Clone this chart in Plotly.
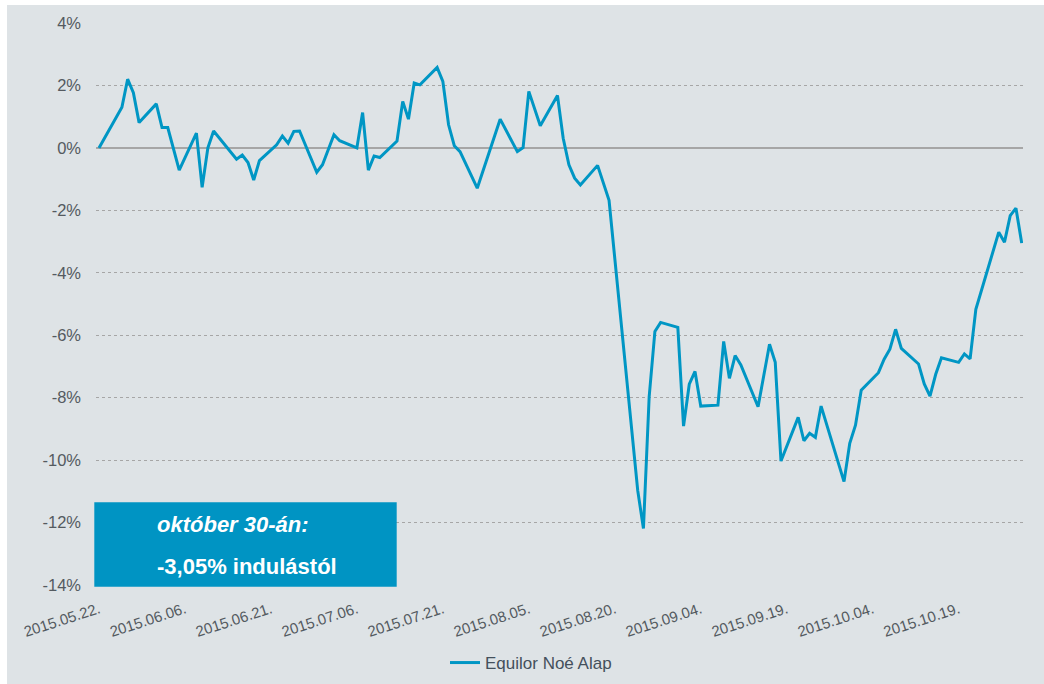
import plotly.graph_objects as go

dates = [
    "2015-05-22", "2015-05-26", "2015-05-27", "2015-05-28", "2015-05-29",
    "2015-06-01", "2015-06-02", "2015-06-03", "2015-06-05", "2015-06-08",
    "2015-06-09", "2015-06-10", "2015-06-11", "2015-06-15", "2015-06-16",
    "2015-06-17", "2015-06-18", "2015-06-19", "2015-06-22", "2015-06-23",
    "2015-06-24", "2015-06-25", "2015-06-26", "2015-06-29", "2015-06-30",
    "2015-07-02", "2015-07-03", "2015-07-06", "2015-07-07", "2015-07-08",
    "2015-07-09", "2015-07-10", "2015-07-13", "2015-07-14", "2015-07-15",
    "2015-07-16", "2015-07-17", "2015-07-20", "2015-07-21", "2015-07-22",
    "2015-07-23", "2015-07-24", "2015-07-27", "2015-07-31", "2015-08-03",
    "2015-08-04", "2015-08-05", "2015-08-07", "2015-08-10", "2015-08-11",
    "2015-08-12", "2015-08-13", "2015-08-14", "2015-08-17", "2015-08-19",
    "2015-08-24", "2015-08-25", "2015-08-26", "2015-08-27", "2015-08-28",
    "2015-08-31", "2015-09-01", "2015-09-02", "2015-09-03", "2015-09-04",
    "2015-09-07", "2015-09-08", "2015-09-09", "2015-09-10", "2015-09-11",
    "2015-09-14", "2015-09-16", "2015-09-17", "2015-09-18", "2015-09-21",
    "2015-09-22", "2015-09-23", "2015-09-24", "2015-09-25", "2015-09-29",
    "2015-09-30", "2015-10-01", "2015-10-02", "2015-10-05", "2015-10-06",
    "2015-10-07", "2015-10-08", "2015-10-09", "2015-10-12", "2015-10-13",
    "2015-10-14", "2015-10-15", "2015-10-16", "2015-10-19", "2015-10-20",
    "2015-10-21", "2015-10-22", "2015-10-26", "2015-10-27", "2015-10-28",
    "2015-10-29", "2015-10-30",
]

noe_values = [
    0.00, 1.30, 2.20, 1.77, 0.81,
    1.41, 0.65, 0.65, -0.71, 0.47,
    -1.26, 0.00, 0.54, -0.36, -0.23,
    -0.47, -1.03, -0.41, 0.10, 0.38,
    0.15, 0.53, 0.54, -0.78, -0.54,
    0.42, 0.23, 0.00, 1.13, -0.71,
    -0.26, -0.31, 0.22, 1.49, 0.92,
    2.08, 2.02, 2.58, 2.13, 0.74,
    0.07, -0.12, -1.29, 0.92, -0.12,
    0.01, 1.81, 0.71, 1.68, 0.31,
    -0.54, -0.97, -1.19, -0.56, -1.68,
    -10.97, -12.19, -7.97, -5.88, -5.59,
    -5.75, -8.91, -7.57, -7.16, -8.27,
    -8.24, -6.20, -7.38, -6.65, -6.95,
    -8.29, -6.29, -6.87, -10.03, -8.63,
    -9.38, -9.14, -9.27, -8.27, -10.69,
    -9.46, -8.88, -7.76, -7.20, -6.77,
    -6.45, -5.81, -6.42, -6.92, -7.56,
    -7.95, -7.25, -6.72, -6.87, -6.60,
    -6.76, -5.17, -2.70, -3.02, -2.17,
    -1.93, -3.05,
]

series_name = "Equilor Noé Alap"
y_tick_vals = [4, 2, 0, -2, -4, -6, -8, -10, -12, -14]
y_tick_labels = ["4%", "2%", "0%", "-2%", "-4%", "-6%", "-8%", "-10%", "-12%", "-14%"]
note_line1 = "<b><i>október 30-án:</i></b>"
note_line2 = "<b>-3,05% indulástól</b>"

BG = "#dee3e6"
BLUE = "#0096c4"
TXT = "#545a60"
FONT = "Arial, Liberation Sans, sans-serif"

W, H = 1044, 684
L, R, T, B = 96, 21, 23, 99
PW, PH = W - L - R, H - T - B


def px2x(px):
    return (px - L) / PW


def py2y(py):
    return (H - B - py) / PH


fig = go.Figure()
fig.add_trace(go.Scatter(
    x=dates, y=noe_values, mode="lines", name=series_name,
    line=dict(color=BLUE, width=3),
    showlegend=True,
))

shapes = [
    # thin white border on the left and top edges
    dict(type="rect", xref="paper", yref="paper", layer="below",
         x0=px2x(-5), x1=px2x(7), y0=py2y(H + 5), y1=py2y(-5),
         fillcolor="white", line=dict(width=0)),
    dict(type="rect", xref="paper", yref="paper", layer="below",
         x0=px2x(-5), x1=px2x(W + 5), y0=py2y(5), y1=py2y(-5),
         fillcolor="white", line=dict(width=0)),
    # annotation box
    dict(type="rect", xref="paper", yref="paper", layer="above",
         x0=px2x(94.3), x1=px2x(396.7), y0=py2y(586.7), y1=py2y(502.3),
         fillcolor="#0094c3", line=dict(width=0)),
]

annotations = [
    dict(xref="paper", yref="paper", x=px2x(155), y=py2y(524),
         xanchor="left", yanchor="middle", text=note_line1, showarrow=False,
         font=dict(family=FONT, size=22, color="white")),
    dict(xref="paper", yref="paper", x=px2x(155), y=py2y(566),
         xanchor="left", yanchor="middle", text=note_line2, showarrow=False,
         font=dict(family=FONT, size=22, color="white")),
]

fig.update_layout(
    width=W, height=H,
    autosize=False,
    margin=dict(l=L, r=R, t=T, b=B, pad=0, autoexpand=False),
    paper_bgcolor=BG,
    plot_bgcolor="rgba(0,0,0,0)",
    font=dict(family=FONT, color=TXT),
    shapes=shapes,
    annotations=annotations,
    showlegend=True,
    legend=dict(orientation="h", x=px2x(445), xanchor="left",
                y=py2y(663), yanchor="middle",
                font=dict(family=FONT, size=17, color="#44505c"),
                bgcolor="rgba(0,0,0,0)"),
    xaxis=dict(
        type="date",
        range=["2015-05-21 11:30", "2015-10-30 05:30"],
        tick0="2015-05-22", dtick=15 * 86400000,
        tickformat="%Y.%m.%d.",
        tickangle=-18,
        tickfont=dict(family=FONT, size=15, color=TXT),
        showgrid=False, zeroline=False, showline=False,
        ticks="", ticklabelstandoff=12, automargin=False,
    ),
    yaxis=dict(
        range=[-14, 4],
        tickvals=y_tick_vals, ticktext=y_tick_labels,
        tickfont=dict(family=FONT, size=16.5, color=TXT),
        showgrid=True, gridcolor="#a6a6a6", griddash="dot", gridwidth=1,
        zeroline=True, zerolinecolor="#a6a6a6", zerolinewidth=2,
        showline=False, ticks="", ticklabelstandoff=14, automargin=False,
    ),
)

fig.write_html(
    "out.html",
    config={"displayModeBar": False},
    post_script="document.body.style.margin='0px';document.body.style.background='%s';" % BG,
)
